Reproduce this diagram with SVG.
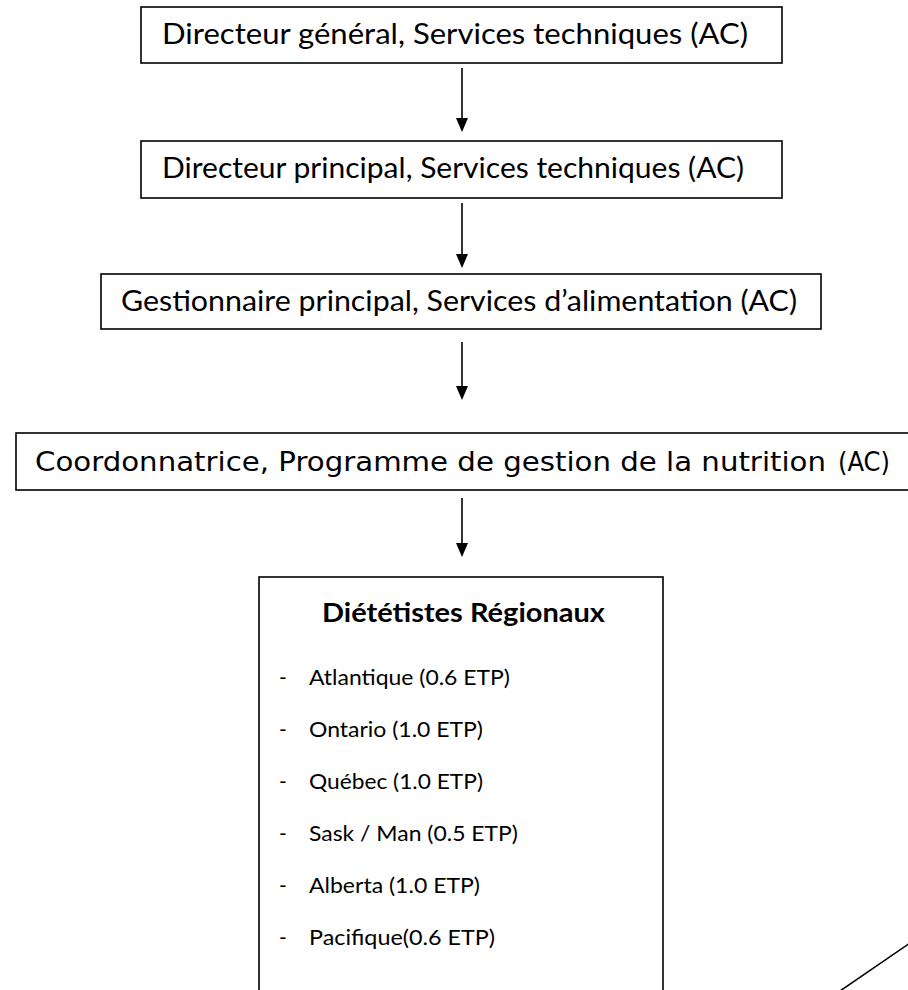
<svg xmlns="http://www.w3.org/2000/svg" width="908" height="990" viewBox="0 0 908 990">
<style>
.box{fill:#fff;stroke:#000;stroke-width:1.6}
.t{font-family:Lato,"Open Sans","Liberation Sans",sans-serif;font-size:28px;fill:#000}
.t4{font-family:"DejaVu Sans","Liberation Sans",sans-serif;font-size:26px;fill:#000}
.ttl{font-family:Lato,"Open Sans","Liberation Sans",sans-serif;font-size:26px;font-weight:bold;fill:#000}
.li{font-family:Lato,"Open Sans","Liberation Sans",sans-serif;font-size:21px;fill:#000}
.c{stroke:#000;stroke-width:1.6;fill:none}
</style>
<defs>
<marker id="ah" viewBox="0 0 12 14" refX="6" refY="14" markerWidth="12" markerHeight="14" markerUnits="userSpaceOnUse" orient="auto-start-reverse">
<path d="M0,0 L12,0 L6,14 Z" fill="#000"/>
</marker>
</defs>
<rect width="908" height="990" fill="#fff"/>
<g id="connectors">
<line class="c" x1="462" y1="68" x2="462" y2="118"/>
<path d="M456,118 L468,118 L462,132 Z" fill="#000"/>
<line class="c" x1="462" y1="203" x2="462" y2="254"/>
<path d="M456,254 L468,254 L462,268 Z" fill="#000"/>
<line class="c" x1="462" y1="342" x2="462" y2="386"/>
<path d="M456,386 L468,386 L462,400 Z" fill="#000"/>
<line class="c" x1="462" y1="498" x2="462" y2="543"/>
<path d="M456,543 L468,543 L462,557 Z" fill="#000"/>
<line class="c" x1="840" y1="991" x2="910" y2="943"/>
</g>
<g id="n1">
<rect class="box" x="141" y="7" width="641" height="56"/>
<text class="t" x="162" y="44" textLength="586" lengthAdjust="spacingAndGlyphs">Directeur général, Services techniques (AC)</text>
</g>
<g id="n2">
<rect class="box" x="141" y="141" width="641" height="57"/>
<text class="t" x="162" y="178" textLength="582" lengthAdjust="spacingAndGlyphs">Directeur principal, Services techniques (AC)</text>
</g>
<g id="n3">
<rect class="box" x="101" y="274" width="720" height="55"/>
<text class="t" x="121" y="311" textLength="676" lengthAdjust="spacingAndGlyphs">Gestionnaire principal, Services d’alimentation (AC)</text>
</g>
<g id="n4">
<rect class="box" x="16" y="433" width="900" height="57"/>
<text class="t4" x="35" y="471" textLength="791" lengthAdjust="spacingAndGlyphs">Coordonnatrice, Programme de gestion de la nutrition</text>
<text class="t4" x="838" y="471" font-size="20" textLength="52" lengthAdjust="spacingAndGlyphs">(AC)</text>
</g>
<g id="n5">
<rect class="box" x="259" y="577" width="404" height="430"/>
<text class="ttl" x="322" y="622" textLength="283" lengthAdjust="spacingAndGlyphs">Diététistes Régionaux</text>
<g class="li">
<text x="279" y="685">-</text><text x="309" y="685" textLength="201" lengthAdjust="spacingAndGlyphs">Atlantique (0.6 ETP)</text>
<text x="279" y="737">-</text><text x="309" y="737" textLength="174" lengthAdjust="spacingAndGlyphs">Ontario (1.0 ETP)</text>
<text x="279" y="789">-</text><text x="309" y="789" textLength="174" lengthAdjust="spacingAndGlyphs">Québec (1.0 ETP)</text>
<text x="279" y="841">-</text><text x="309" y="841" textLength="209" lengthAdjust="spacingAndGlyphs">Sask / Man (0.5 ETP)</text>
<text x="279" y="893">-</text><text x="309" y="893" textLength="171" lengthAdjust="spacingAndGlyphs">Alberta (1.0 ETP)</text>
<text x="279" y="945">-</text><text x="309" y="945" textLength="186" lengthAdjust="spacingAndGlyphs">Pacifique(0.6 ETP)</text>
</g>
</g>
</svg>
